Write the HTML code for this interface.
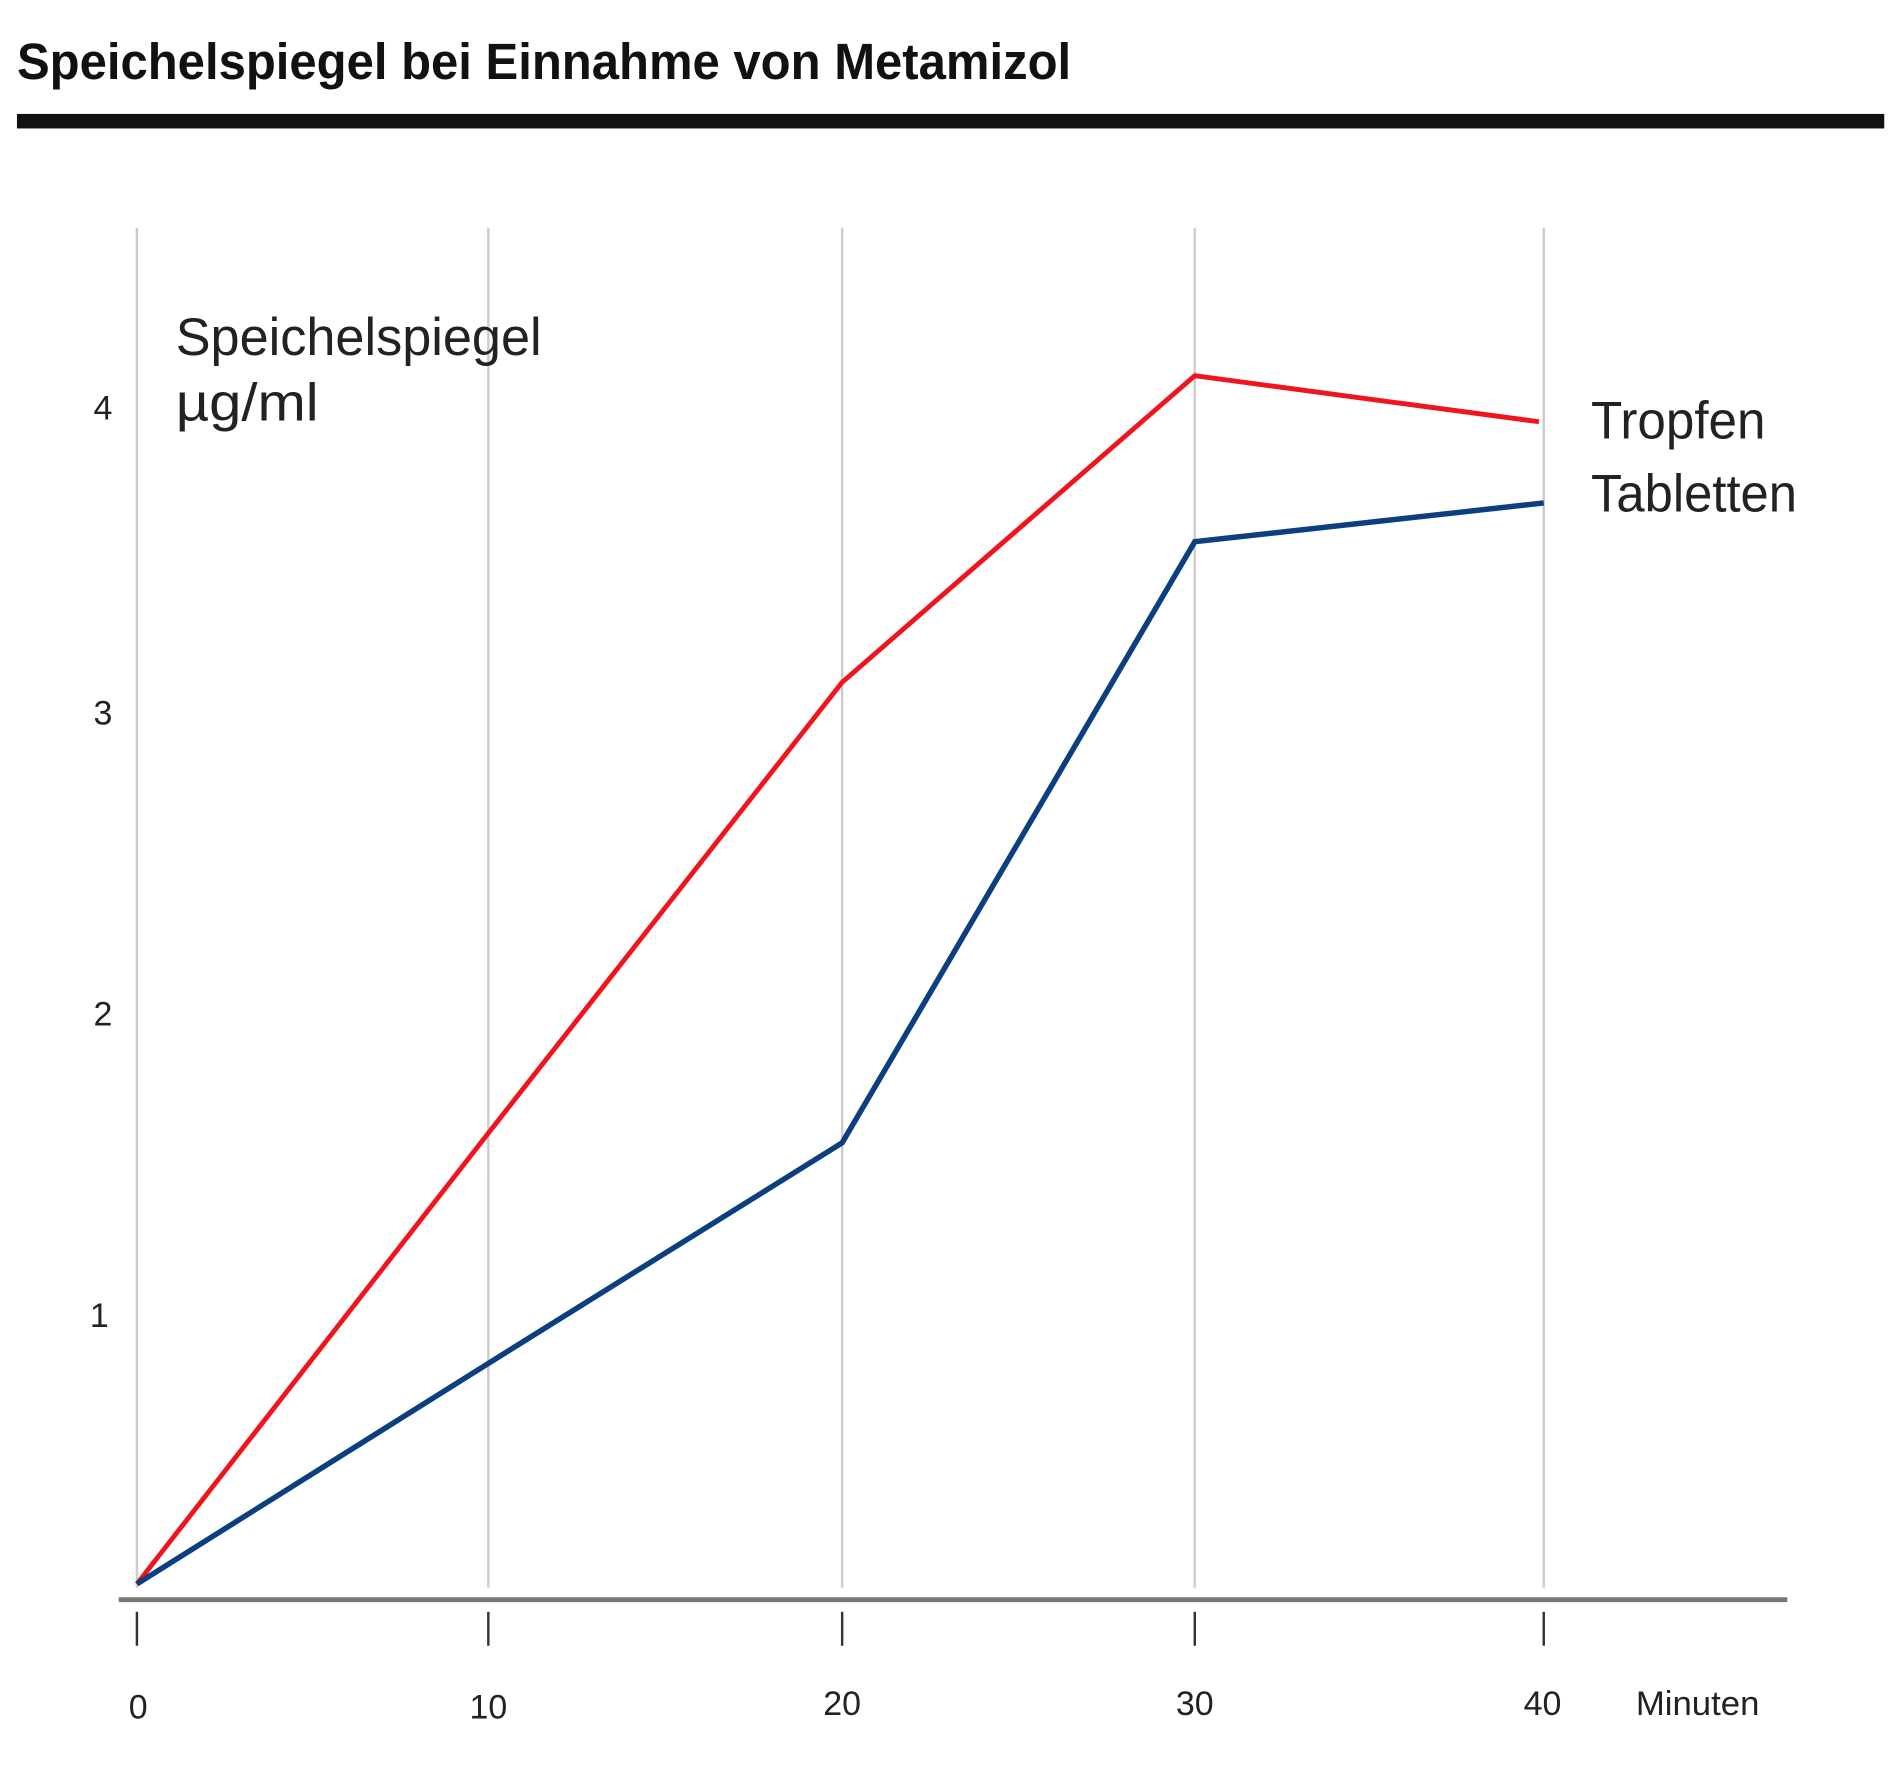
<!DOCTYPE html>
<html><head><meta charset="utf-8"><style>html,body{margin:0;padding:0;background:#fff}svg{display:block}</style></head>
<body>
<svg width="1900" height="1773" viewBox="0 0 1568 1463" preserveAspectRatio="none" xmlns="http://www.w3.org/2000/svg" font-family="Liberation Sans, sans-serif">
<rect width="1568" height="1463" fill="#fff"/>
<text x="14" y="65" font-size="42" font-weight="bold" fill="#111" textLength="870" lengthAdjust="spacingAndGlyphs">Speichelspiegel bei Einnahme von Metamizol</text>
<rect x="14" y="94" width="1541" height="12" fill="#111"/>
<g stroke="#ccc" stroke-width="2">
<line x1="113" y1="188" x2="113" y2="1310"/>
<line x1="403" y1="188" x2="403" y2="1310"/>
<line x1="695" y1="188" x2="695" y2="1310"/>
<line x1="986" y1="188" x2="986" y2="1310"/>
<line x1="1274" y1="188" x2="1274" y2="1310"/>
</g>
<line x1="98" y1="1320" x2="1475" y2="1320" stroke="#777" stroke-width="4"/>
<g stroke="#333" stroke-width="2">
<line x1="113" y1="1330" x2="113" y2="1358"/>
<line x1="403" y1="1330" x2="403" y2="1358"/>
<line x1="695" y1="1330" x2="695" y2="1358"/>
<line x1="986" y1="1330" x2="986" y2="1358"/>
<line x1="1274" y1="1330" x2="1274" y2="1358"/>
</g>
<g font-size="28" fill="#222" text-anchor="middle">
<text x="114" y="1418">0</text><text x="403" y="1418">10</text><text x="695" y="1415">20</text><text x="986" y="1415">30</text><text x="1273" y="1415">40</text>
<text x="85" y="346">4</text><text x="85" y="598">3</text><text x="85" y="846">2</text><text x="82" y="1095">1</text>
</g>
<text x="1350" y="1415" font-size="28" fill="#222" textLength="102" lengthAdjust="spacingAndGlyphs">Minuten</text>
<g font-size="44" fill="#222">
<text x="145" y="293" textLength="302" lengthAdjust="spacingAndGlyphs">Speichelspiegel</text>
<text x="145" y="347" textLength="118" lengthAdjust="spacingAndGlyphs">µg/ml</text>
<text x="1313" y="362" textLength="144" lengthAdjust="spacingAndGlyphs">Tropfen</text>
<text x="1313" y="422" textLength="170" lengthAdjust="spacingAndGlyphs">Tabletten</text>
</g>
<polyline points="113,1307 403,935 695,563 986,310 1270,348" fill="none" stroke="#f0141e" stroke-width="4" stroke-linejoin="miter"/>
<polyline points="113,1307 403,1125 695,943 986,447 1274,415" fill="none" stroke="#0b3f7f" stroke-width="4.5" stroke-linejoin="miter"/>
</svg>
</body></html>
